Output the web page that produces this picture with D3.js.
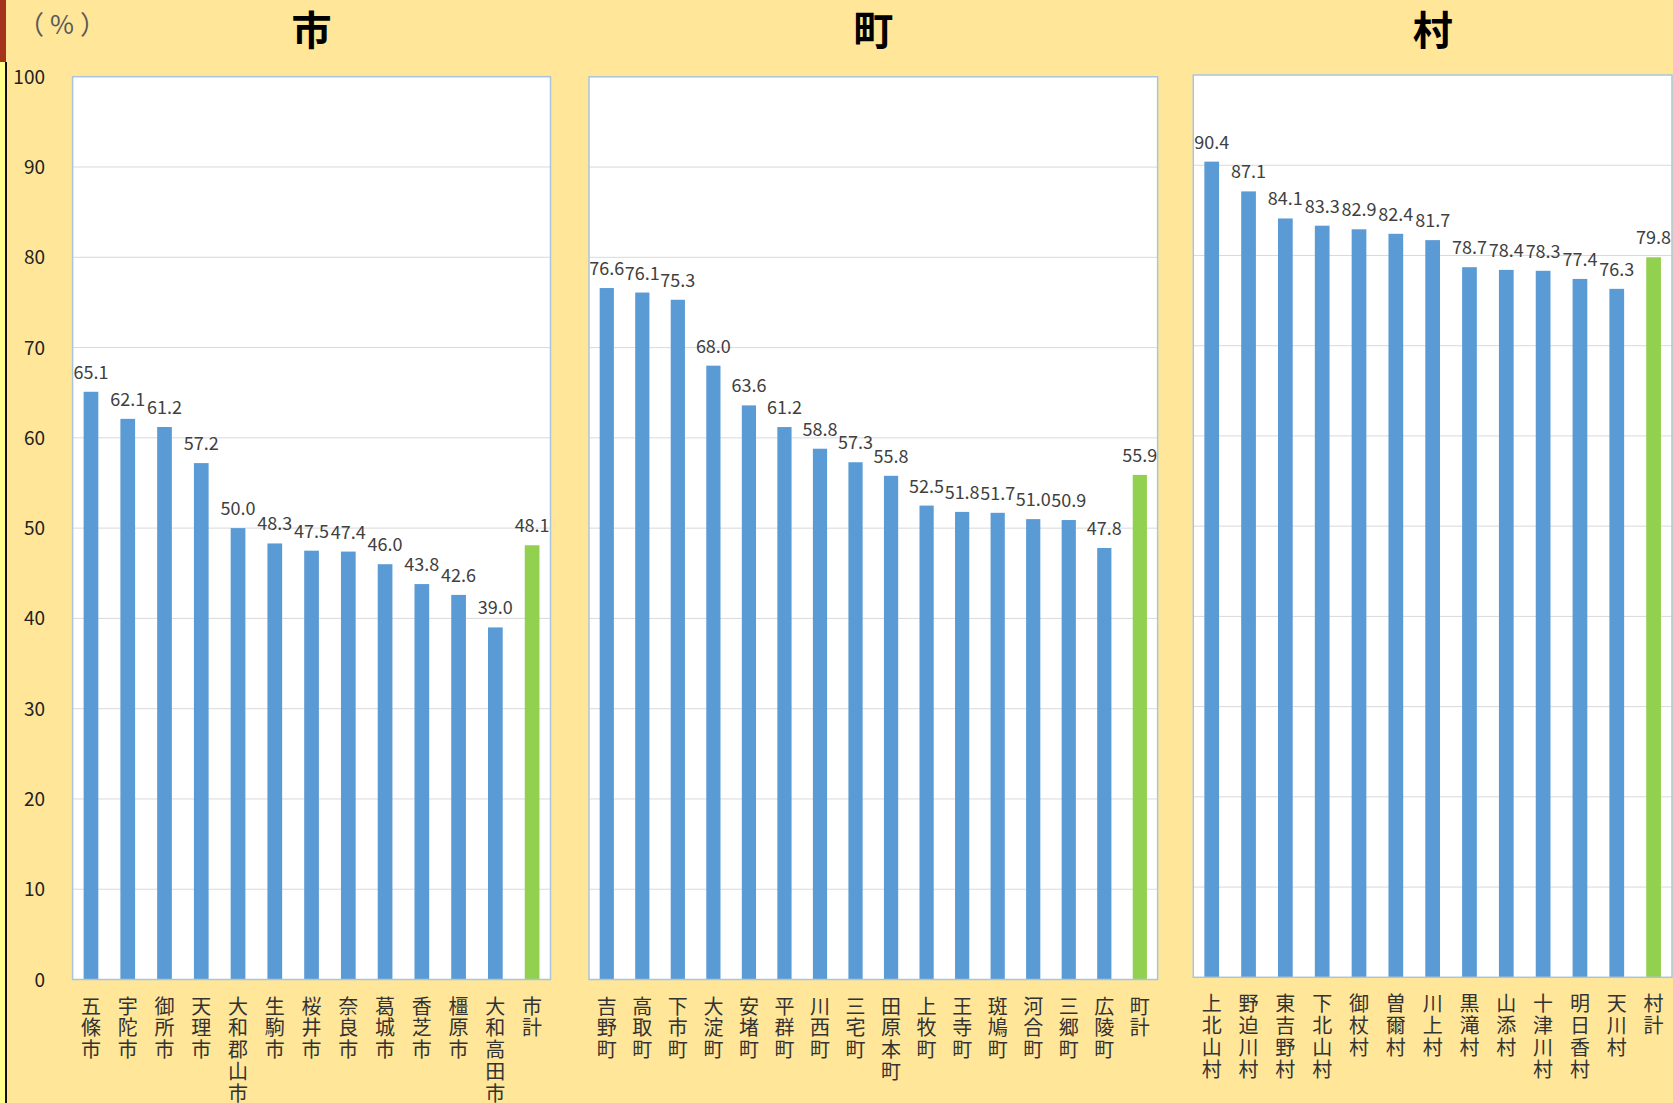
<!DOCTYPE html>
<html>
<head>
<meta charset="utf-8">
<script src="https://cdn.jsdelivr.net/npm/d3@7"></script>
<style>
  body { margin: 0; background: #FFE699; overflow: hidden; }
  text { font-family: "Noto Sans CJK JP", "Noto Sans", sans-serif; }
</style>
</head>
<body>
<script>
// 市
var cityNames = ["五條市", "宇陀市", "御所市", "天理市", "大和郡山市", "生駒市", "桜井市", "奈良市", "葛城市", "香芝市", "橿原市", "大和高田市", "市計"];
var cityValues = [65.1, 62.1, 61.2, 57.2, 50.0, 48.3, 47.5, 47.4, 46.0, 43.8, 42.6, 39.0, 48.1];
// 町
var townNames = ["吉野町", "高取町", "下市町", "大淀町", "安堵町", "平群町", "川西町", "三宅町", "田原本町", "上牧町", "王寺町", "斑鳩町", "河合町", "三郷町", "広陵町", "町計"];
var townValues = [76.6, 76.1, 75.3, 68.0, 63.6, 61.2, 58.8, 57.3, 55.8, 52.5, 51.8, 51.7, 51.0, 50.9, 47.8, 55.9];
// 村
var villageNames = ["上北山村", "野迫川村", "東吉野村", "下北山村", "御杖村", "曽爾村", "川上村", "黒滝村", "山添村", "十津川村", "明日香村", "天川村", "村計"];
var villageValues = [90.4, 87.1, 84.1, 83.3, 82.9, 82.4, 81.7, 78.7, 78.4, 78.3, 77.4, 76.3, 79.8];
// y axis
var yTicks = [0, 10, 20, 30, 40, 50, 60, 70, 80, 90, 100];

var W = 1673, H = 1103;
var blue = "#5B9BD5", green = "#92D050";

var svg = d3.select("body").append("svg")
    .attr("width", W)
    .attr("height", H);

svg.append("rect").attr("width", W).attr("height", H).attr("fill", "#FFE699");

// left edge strip
svg.append("rect").attr("x", 0).attr("y", 0).attr("width", 6).attr("height", 62).attr("fill", "#A5321A");
svg.append("rect").attr("x", 0).attr("y", 62).attr("width", 6).attr("height", H - 62).attr("fill", "#FFFF8C");
svg.append("line").attr("x1", 6).attr("x2", 6).attr("y1", 62).attr("y2", H)
    .attr("stroke", "#111").attr("stroke-width", 2);

// unit label
svg.append("text")
    .attr("x", 65).attr("y", 34)
    .attr("text-anchor", "middle")
    .attr("font-size", 26)
    .attr("letter-spacing", 6)
    .attr("fill", "#595959")
    .text("（%）");

var panels = [
    { title: "市", names: cityNames, values: cityValues, x0: 72.6, x1: 550.5, top: 76.7, bottom: 979.5 },
    { title: "町", names: townNames, values: townValues, x0: 589, x1: 1157.6, top: 76.8, bottom: 979.5 },
    { title: "村", names: villageNames, values: villageValues, x0: 1193.3, x1: 1672, top: 75, bottom: 977.3 }
];

panels.forEach(function(p, i) {
    var g = svg.append("g");

    var xScale = d3.scaleBand()
        .domain(p.names)
        .range([p.x0, p.x1])
        .paddingInner(0.6)
        .paddingOuter(0.3);

    var yScale = d3.scaleLinear()
        .domain([0, 100])
        .range([p.bottom, p.top]);

    // plot area
    g.append("rect")
        .attr("x", p.x0).attr("y", p.top)
        .attr("width", p.x1 - p.x0).attr("height", p.bottom - p.top)
        .attr("fill", "#fff");

    // gridlines
    g.selectAll(".grid")
        .data(yTicks.slice(1, -1))
        .enter().append("line")
        .attr("x1", p.x0).attr("x2", p.x1)
        .attr("y1", function(d) { return yScale(d); })
        .attr("y2", function(d) { return yScale(d); })
        .attr("stroke", "#D9D9D9")
        .attr("stroke-width", 1);

    // bars
    g.selectAll(".bar")
        .data(p.names)
        .enter().append("rect")
        .attr("x", function(d) { return xScale(d); })
        .attr("y", function(d, j) { return yScale(p.values[j]); })
        .attr("width", xScale.bandwidth())
        .attr("height", function(d, j) { return yScale(0) - yScale(p.values[j]); })
        .attr("fill", function(d) { return d.slice(-1) === "計" ? green : blue; });

    // value labels
    g.selectAll(".val")
        .data(p.names)
        .enter().append("text")
        .attr("x", function(d) { return xScale(d) + xScale.bandwidth() / 2; })
        .attr("y", function(d, j) { return yScale(p.values[j]) - 13; })
        .attr("text-anchor", "middle")
        .attr("font-size", 18)
        .attr("fill", "#404040")
        .text(function(d, j) { return p.values[j].toFixed(1); });

    // panel border
    g.append("rect")
        .attr("x", p.x0).attr("y", p.top)
        .attr("width", p.x1 - p.x0).attr("height", p.bottom - p.top)
        .attr("fill", "none")
        .attr("stroke", "#A9C5DE")
        .attr("stroke-width", 1.5);

    // vertical category labels, one character per line
    var lab = g.selectAll(".cat")
        .data(p.names)
        .enter().append("text")
        .attr("font-size", 20)
        .attr("fill", "#333")
        .attr("text-anchor", "middle");
    lab.selectAll("tspan")
        .data(function(d) { return d.split("").map(function(c) { return { c: c, name: d }; }); })
        .enter().append("tspan")
        .attr("x", function(d) { return xScale(d.name) + xScale.bandwidth() / 2; })
        .attr("y", function(d, k) { return p.bottom + 34 + k * 21.8; })
        .text(function(d) { return d.c; });

    // title
    svg.append("text")
        .attr("x", (p.x0 + p.x1) / 2)
        .attr("y", 45)
        .attr("text-anchor", "middle")
        .attr("font-size", 40)
        .attr("font-weight", "bold")
        .attr("fill", "#000")
        .text(p.title);

    // y axis tick labels on the first panel only
    if (i === 0) {
        svg.selectAll(".ytick")
            .data(yTicks)
            .enter().append("text")
            .attr("x", 45)
            .attr("y", function(d) { return yScale(d) + 7; })
            .attr("text-anchor", "end")
            .attr("font-size", 19)
            .attr("fill", "#222")
            .text(function(d) { return d; });
    }
});
</script>
</body>
</html>
